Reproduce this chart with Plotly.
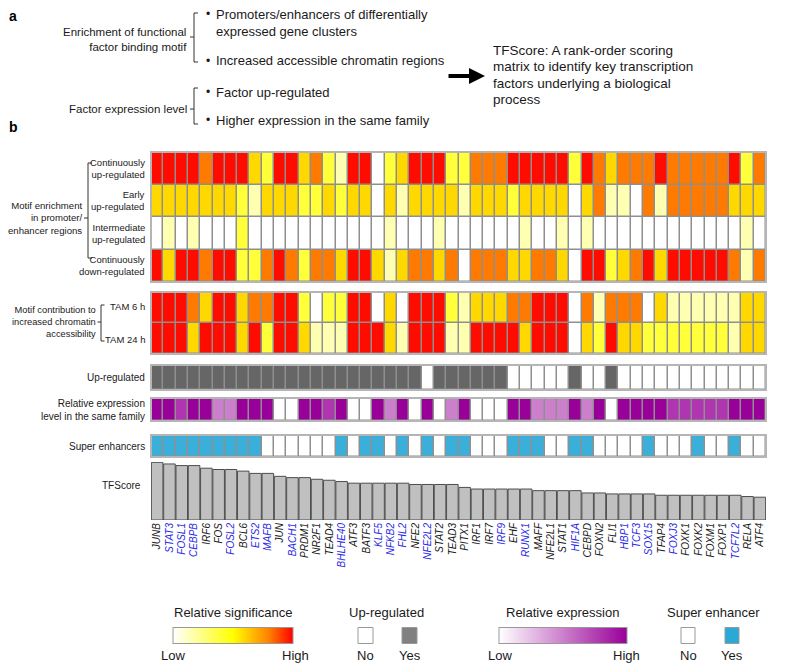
import plotly.graph_objects as go

# ---------------- data ----------------
genes = ["JUNB", "STAT3", "FOSL1", "CEBPB", "IRF6", "FOS", "FOSL2", "BCL6", "ETS2", "MAFB",
         "JUN", "BACH1", "PRDM1", "NR2F1", "TEAD4", "BHLHE40", "ATF3", "BATF3", "KLF5", "NFKB2",
         "FHL2", "NFE2", "NFE2L2", "STAT2", "TEAD3", "PITX1", "IRF1", "IRF7", "IRF9", "EHF",
         "RUNX1", "MAFF", "NFE2L1", "STAT1", "HIF1A", "CEBPD", "FOXN2", "FLI1", "HBP1", "TCF3",
         "SOX15", "TFAP4", "FOXJ3", "FOXK1", "FOXK2", "FOXM1", "FOXP1", "TCF7L2", "RELA", "ATF4"]
blue_genes = ["STAT3", "FOSL1", "CEBPB", "FOSL2", "ETS2", "MAFB", "BACH1", "BHLHE40", "KLF5",
              "NFKB2", "FHL2", "NFE2L2", "IRF9", "RUNX1", "HIF1A", "HBP1", "TCF3", "SOX15",
              "FOXJ3", "TCF7L2"]

# relative significance levels: 0 = none ... 5 = highest
cont_up = [5, 5, 5, 5, 4, 5, 5, 5, 3, 2, 5, 5, 3, 4, 2, 1, 5, 5, 0, 2, 3, 5, 5,
           5, 2, 2, 4, 4, 4, 5, 5, 5, 5, 5, 2, 5, 4, 3, 4, 4, 4, 5, 4, 4, 4, 4, 4, 5, 2, 4]
early_up = [3, 3, 3, 3, 3, 3, 3, 2, 1, 3, 3, 3, 2, 2, 3, 2, 3, 3, 0, 3, 1, 3, 3,
            3, 3, 1, 3, 3, 3, 2, 3, 3, 3, 3, 0, 3, 4, 1, 1, 0, 4, 1, 4, 4, 4, 4, 4, 3, 3, 3]
inter_up = [0, 1, 0, 1, 0, 0, 0, 2, 0, 0, 0, 0, 0, 0, 0, 0, 0, 0, 0, 1, 0, 0, 0,
            1, 0, 0, 0, 0, 0, 0, 1, 0, 0, 1, 0, 1, 0, 0, 0, 0, 0, 0, 0, 0, 0, 0, 0, 0, 1, 0]
cont_down = [5, 3, 5, 5, 4, 5, 5, 2, 2, 4, 5, 4, 2, 4, 4, 3, 5, 5, 3, 1, 3, 4, 4,
             3, 4, 0, 4, 4, 4, 3, 3, 4, 4, 3, 0, 5, 5, 2, 3, 4, 5, 3, 5, 5, 5, 5, 5, 4, 1, 4]
tam6 = [5, 5, 5, 4, 3, 5, 5, 3, 4, 4, 5, 5, 2, 0, 2, 2, 5, 5, 0, 3, 0, 5, 5,
        5, 2, 1, 3, 3, 3, 4, 4, 5, 5, 5, 0, 4, 1, 4, 4, 4, 0, 3, 1, 1, 1, 1, 1, 1, 3, 3]
tam24 = [5, 5, 5, 3, 5, 5, 5, 3, 5, 2, 5, 5, 3, 1, 1, 1, 5, 5, 5, 3, 1, 5, 5,
         5, 1, 1, 5, 5, 5, 5, 3, 5, 5, 5, 0, 3, 2, 5, 3, 3, 2, 2, 2, 2, 2, 2, 2, 1, 3, 3]
upregulated = [1, 1, 1, 1, 1, 1, 1, 1, 1, 1, 1, 1, 1, 1, 1, 1, 1, 1, 1, 1, 1, 1, 0,
               1, 1, 1, 1, 1, 1, 0, 0, 0, 0, 0, 1, 0, 0, 1, 0, 0, 0, 0, 0, 0, 0, 0, 0, 0, 0, 0]
# relative expression: 0 = low/none ... 3 = high
rel_expr = [3, 3, 2, 3, 3, 1, 1, 3, 3, 3, 0, 0, 3, 3, 2, 3, 0, 0, 3, 1, 3, 0, 3,
            0, 1, 3, 0, 0, 0, 3, 3, 1, 1, 1, 3, 1, 3, 0, 3, 3, 3, 3, 2, 2, 2, 2, 2, 3, 3, 3]
super_enh = [1, 1, 1, 1, 1, 1, 1, 1, 1, 0, 0, 0, 0, 0, 0, 1, 0, 1, 1, 0, 1, 0, 1,
             0, 1, 1, 0, 0, 0, 1, 1, 1, 0, 0, 1, 1, 0, 0, 0, 0, 1, 0, 0, 0, 1, 0, 0, 1, 0, 0]
tfscore = [177, 172, 167, 167, 159, 155, 155, 150, 143, 143,
           134, 130, 130, 125, 122, 118, 113, 113, 113, 113,
           113, 109, 109, 109, 109, 100, 95, 95, 95, 95,
           95, 90, 90, 90, 90, 83, 83, 80, 80, 80,
           80, 76, 76, 76, 76, 76, 76, 76, 72, 70]

# ---------------- geometry helpers ----------------
W, H = 794, 663
def fx(x): return x / W
def fy(y): return 1 - y / H

X0, X1 = 143, 758
LX = 138          # right edge of row labels
FONT = "Liberation Sans, Arial, Helvetica, sans-serif"
TXT = "#1a1a1a"
RL = 10           # row-label font size

sig_colors = ["#FFFFFF", "#FFFFB2", "#FFFF3A", "#FFD800", "#FF7A00", "#FF0C00"]
purple_colors = ["#FFFFFF", "#CC80CC", "#B035B0", "#990099"]
up_colors = ["#FFFFFF", "#666666"]
se_colors = ["#FFFFFF", "#3AAFD9"]


def discrete(colors):
    n = len(colors)
    out = []
    for i, c in enumerate(colors):
        out += [[i / n, c], [(i + 1) / n, c]]
    return out


blocks = [
    ([cont_up, early_up, inter_up, cont_down], sig_colors, 144, 274),
    ([tam6, tam24], sig_colors, 284, 346),
    ([upregulated], up_colors, 357, 382),
    ([rel_expr], purple_colors, 390, 413),
    ([super_enh], se_colors, 427, 449),
]
BAR_TOP, BAR_BOT = 454, 512

fig = go.Figure()
axes = {}
shapes = []

for i, (rows, colors, top, bot) in enumerate(blocks, start=1):
    key = "" if i == 1 else str(i)
    xa, ya = "x" + key, "y" + key
    fig.add_trace(go.Heatmap(
        z=rows, x=genes, y=list(range(len(rows))), xaxis=xa, yaxis=ya,
        colorscale=discrete(colors), zmin=0, zmax=len(colors) - 1, showscale=False,
        xgap=1.5, ygap=1.5, hoverinfo="skip"))
    axes["xaxis" + key] = dict(domain=[fx(X0), fx(X1)], anchor=ya, visible=False,
                               type="category", categoryorder="array", categoryarray=genes,
                               range=[-0.5, len(genes) - 0.5])
    axes["yaxis" + key] = dict(domain=[fy(bot), fy(top)], anchor=xa, visible=False,
                               range=[len(rows) - 0.5, -0.5])
    shapes.append(dict(type="rect", xref=xa + " domain", yref=ya + " domain",
                       x0=0, x1=1, y0=0, y1=1, fillcolor="#8f8f8f",
                       line=dict(width=0), layer="below"))
    shapes.append(dict(type="rect", xref=xa + " domain", yref=ya + " domain",
                       x0=0, x1=1, y0=0, y1=1, fillcolor="rgba(0,0,0,0)",
                       line=dict(color="#b5b5b5", width=2), layer="above"))

# TFScore bars
ticktext = []
for g in genes:
    col = "#2a2ae6" if g in blue_genes else TXT
    ticktext.append(f"<i><span style='color:{col}'>{g}</span></i>")

fig.add_trace(go.Bar(x=genes, y=tfscore, xaxis="x6", yaxis="y6", width=0.94,
                     marker=dict(color="#C0C0C0", line=dict(color="#4d4d4d", width=1)),
                     hoverinfo="skip"))
axes["xaxis6"] = dict(domain=[fx(X0), fx(X1)], anchor="y6", type="category",
                      categoryorder="array", categoryarray=genes,
                      range=[-0.5, len(genes) - 0.5], tickvals=genes, ticktext=ticktext,
                      tickangle=-90, ticks="", ticklen=0, showgrid=False, zeroline=False,
                      showline=False, tickfont=dict(size=10, family=FONT, color=TXT))
axes["yaxis6"] = dict(domain=[fy(BAR_BOT), fy(BAR_TOP)], anchor="x6", visible=False,
                      range=[0, max(tfscore) + 1])

LEG_Y = 627.5

# colour-bar legends (dummy traces)
def cbar_trace(scale, cx, length):
    return go.Scatter(
        x=[None], y=[None], xaxis="x6", yaxis="y6", mode="markers", hoverinfo="skip",
        showlegend=False,
        marker=dict(color=[0], cmin=0, cmax=1, colorscale=scale, showscale=True,
                    colorbar=dict(orientation="h", x=fx(cx), xanchor="center",
                                  y=fy(LEG_Y), yanchor="middle", len=length, lenmode="pixels",
                                  thickness=16, thicknessmode="pixels", outlinewidth=1,
                                  outlinecolor="#999999", showticklabels=False, ticks="",
                                  xpad=0, ypad=0, borderwidth=0)))

fig.add_trace(cbar_trace([[0, "#FFFFFF"], [0.5, "#FFFF00"], [0.8, "#FF8000"], [1, "#FF0000"]],
                         225, 120))
fig.add_trace(cbar_trace([[0, "#FFFFFF"], [1, "#990099"]], 555, 128))

# ---------------- annotations ----------------
A = []
def ann(text, x, y, xa="left", size=RL, color=TXT):
    align = "center" if xa == "center" else xa
    A.append(dict(text=text, x=fx(x), y=fy(y), xref="paper", yref="paper", xanchor=xa,
                  yanchor="middle", showarrow=False, align=align, borderpad=0,
                  font=dict(size=size, family=FONT, color=color)))

def line(x0, y0, x1, y1, w=1, c="#333333"):
    shapes.append(dict(type="line", xref="paper", yref="paper", x0=fx(x0), y0=fy(y0),
                       x1=fx(x1), y1=fy(y1), line=dict(color=c, width=w)))

def bracket(x, ytop, ybot, ymid, out=4):
    line(x, ytop, x, ybot)
    line(x, ytop, x + out, ytop)
    line(x, ybot, x + out, ybot)
    line(x, ymid, x - out, ymid)

# panel a
ann("<b>a</b>", 0, 8, size=14, color="#000")
ann("Enrichment of functional<br>factor binding motif", 180, 31, "right", 11.5)
ann("Factor expression level", 180, 101, "right", 11.5)
bracket(186, 5, 54, 29)
bracket(186, 80, 116, 101)
for yb in (6, 53, 84, 112):
    ann("•", 197, yb, size=12)
ann("Promoters/enhancers of differentially<br>expressed gene clusters", 207, 14.5, size=13)
ann("Increased accessible chromatin regions", 207, 53, size=13)
ann("Factor up-regulated", 207, 84, size=13)
ann("Higher expression in the same family", 207, 112, size=13)
tf_lines = ["TFScore: A rank-order scoring", "matrix to identify key transcription",
            "factors underlying a biological", "process"]
for k, t in enumerate(tf_lines):
    ann(t, 484, 42.5 + 16.3 * k, size=13.5)
A.append(dict(x=fx(477), y=fy(68), xref="paper", yref="paper", ax=-38, ay=0, text="",
              showarrow=True, arrowhead=2, arrowwidth=4, arrowsize=0.8, arrowcolor="#000",
              standoff=0))

# panel b
ann("<b>b</b>", 0, 119, size=14, color="#000")
rowh = (274 - 144) / 4
ann("Continuously<br>up-regulated", LX, 144 + rowh * 0.5, "right", 9.5)
ann("Early<br>up-regulated", LX, 144 + rowh * 1.5, "right", 9.5)
ann("Intermediate<br>up-regulated", LX, 144 + rowh * 2.5, "right", 9.5)
ann("Continuously<br>down-regulated", LX, 144 + rowh * 3.5, "right", 9.5)
ann("Motif enrichment<br>in promoter/<br>enhancer regions", 75, 210, "right", 9.6)
bracket(80, 155, 250, 210)
ann("TAM 6 h", LX, 299, "right", 9.5)
ann("TAM 24 h", LX, 331, "right", 9.5)
ann("Motif contribution to<br>increased chromatin<br>accessibility", 88.5, 314, "right", 9.3)
bracket(93, 297, 333, 314, out=3.5)
ann("Up-regulated", LX, 369.5, "right")
ann("Relative expression<br>level in the same family", LX, 401.5, "right")
ann("Super enhancers", LX, 438, "right")
ann("TFScore", LX - 4, 477, "right")

# legends
TY, LY = 604, 647
ann("Relative significance", 225, TY, "center", 13)
ann("Low", 165, LY, "center", 13)
ann("High", 287, LY, "center", 13)
ann("Up-regulated", 378, TY, "center", 13)
ann("No", 357.5, LY, "center", 13)
ann("Yes", 401.5, LY, "center", 13)
ann("Relative expression", 554, TY, "center", 13)
ann("Low", 492, LY, "center", 13)
ann("High", 618, LY, "center", 13)
ann("Super enhancer", 705, TY, "center", 13)
ann("No", 680, LY, "center", 13)
ann("Yes", 724, LY, "center", 13)

def box(x0, x1, fill):
    shapes.append(dict(type="rect", xref="paper", yref="paper", x0=fx(x0), x1=fx(x1),
                       y0=fy(LEG_Y + 8), y1=fy(LEG_Y - 8), fillcolor=fill,
                       line=dict(color="#999999", width=1)))

box(350, 365, "#FFFFFF")
box(394, 409, "#808080")
box(673, 687, "#FFFFFF")
box(717, 731, "#2AA9D6")

fig.update_layout(width=W, height=H, margin=dict(l=0, r=0, t=0, b=0),
                  paper_bgcolor="white", plot_bgcolor="white", showlegend=False,
                  font=dict(family=FONT, color=TXT), annotations=A, shapes=shapes,
                  bargap=0.05, **axes)

fig.write_html("out.html")
